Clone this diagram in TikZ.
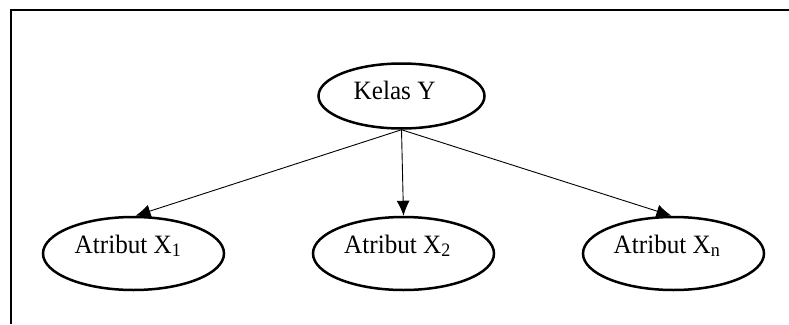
\documentclass[tikz,border=0pt]{standalone}
\usepackage{fontspec}
\setmainfont{Liberation Serif}
\newfontfamily\lblfont[FakeStretch=0.95]{Liberation Serif}
\usetikzlibrary{shapes.geometric,arrows.meta}
\newcommand{\mysub}[1]{\raisebox{-2.7pt}{\fontsize{19}{19}\selectfont #1}}
\begin{document}
\begin{tikzpicture}[x=1pt,y=-1pt,
  ell/.style={draw,ellipse,line width=2.5pt,inner sep=0pt},
  lbl/.style={anchor=base west,inner sep=0pt,font=\lblfont\fontsize{26.5}{26.5}\selectfont},
  arr/.style={line width=0.9pt,-{Latex[length=15pt,width=13pt]}}]
\useasboundingbox (0,0) rectangle (789,324);
\draw[line width=2pt] (11,324) -- (11,10) -- (789,10);
\node[ell,minimum width=166pt,minimum height=65pt] (k) at (401.5,96) {};
\node[ell,minimum width=181pt,minimum height=73pt] (x1) at (133.5,253.5) {};
\node[ell,minimum width=181pt,minimum height=73pt] (x2) at (403.5,253.5) {};
\node[ell,minimum width=181pt,minimum height=73pt] (xn) at (673.5,253.5) {};
\node[lbl] (kt) at (353.5,99.3) {Kelas Y};
\node[lbl] (x1t) at (74.5,253.3) {Atribut X\mysub{1}};
\node[lbl] (x2t) at (344,253.3) {Atribut X\mysub{2}};
\node[lbl] (xnt) at (613.5,253.3) {Atribut X\mysub{n}};
\draw[arr] (k.south) -- ([xshift=2pt]x1.north);
\draw[arr] (k.south) -- (x2.north);
\draw[arr] (k.south) -- ([xshift=-2pt]xn.north);
\end{tikzpicture}
\end{document}
